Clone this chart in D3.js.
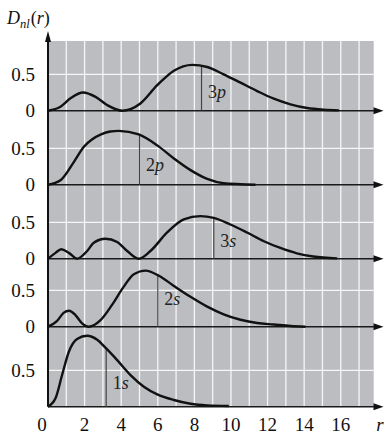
<!DOCTYPE html>
<html>
<head>
<meta charset="utf-8">
<script src="https://cdn.jsdelivr.net/npm/d3@7"></script>
<style>
  svg text, svg tspan { font-family: "Liberation Serif", serif !important; }
</style>
</head>
<body style="margin:0">
<svg width="384" height="435"></svg>
<script>

// data: [r, D(r)]
var panels = ["3p", "2p", "3s", "2s", "1s"];

var d3p = [[0,0],[0.68,0.055],[1.23,0.17],[1.92,0.25],[2.6,0.19],[3.23,0.078],[4.05,0],
  [5.05,0.10],[5.97,0.35],[6.88,0.55],[7.88,0.63],[8.7,0.60],[9.6,0.50],[10.52,0.385],
  [11.43,0.27],[12.34,0.165],[13.25,0.088],[14.16,0.037],[15.07,0.014],[15.9,0.005]];

var d2p = [[0,0],[0.68,0.06],[1.41,0.31],[1.96,0.52],[2.4,0.62],[2.9,0.69],[3.4,0.73],[3.87,0.74],
  [4.96,0.69],[5.97,0.54],[6.88,0.36],[7.79,0.20],[8.7,0.08],[9.6,0.02],[10.52,0.007],[11.34,0]];

var d3s = [[0,0],[0.41,0.08],[0.72,0.13],[1.14,0.08],[1.59,0],[2.14,0.106],[2.5,0.22],
  [3.14,0.275],[3.78,0.23],[4.33,0.106],[4.96,0],[5.6,0.106],[6.51,0.36],[7.42,0.54],
  [8.33,0.585],[9.06,0.56],[9.97,0.47],[10.88,0.36],[11.8,0.24],[12.7,0.147],[13.6,0.074],
  [14.5,0.03],[15.8,0.005]];

var d2s = [[0,0],[0.5,0.08],[0.85,0.19],[1.15,0.22],[1.5,0.16],[1.85,0.05],[2.23,0],
  [2.87,0.09],[3.5,0.30],[4.14,0.55],[4.69,0.72],[5.33,0.77],[6.06,0.70],[6.88,0.56],
  [7.79,0.41],[8.7,0.275],[9.6,0.17],[10.52,0.095],[11.43,0.05],[12.34,0.03],[13.25,0.01],[14.07,0]];

var d1s = [[0,0],[0.41,0.115],[0.77,0.435],[1.14,0.755],[1.59,0.93],[2.14,0.975],[2.69,0.92],
  [3.18,0.80],[3.78,0.64],[4.51,0.435],[5.24,0.275],[5.97,0.17],[6.88,0.092],[7.79,0.04],
  [8.7,0.018],[9.88,0.01]];

var curves = [d3p, d2p, d3s, d2s, d1s];

// vertical marks (r, height where they meet the curve)
var markR = [8.39, 5.0, 9.06, 6.0, 3.18];
var markD = [0.61, 0.69, 0.56, 0.705, 0.80];

var xTicks = [0, 2, 4, 6, 8, 10, 12, 14, 16];
var gridR = [1,2,3,4,5,6,7,8,9,10,11,12,13,14,15,16,17];
var yTickLabels = ["0", "0.5"];

//###############################################
// layout
//###############################################
var svg = d3.select("svg");
var baseY = [110.7, 184.7, 258.7, 326.7, 406.7];   // panel baselines
var labelLift = [13, 14, 11.5, 21.5, 17.5];
var fieldTop = 41, fieldRight = 373.7, tip = 383.5;
var serif = "'Liberation Serif'";

var x = d3.scaleLinear().domain([0, 17.8]).range([48, 373.7]);
var y = d3.scaleLinear().domain([0, 1]).range([0, -72.8]);

// gray field
svg.append("rect")
  .attr("x", x(0)).attr("y", fieldTop)
  .attr("width", fieldRight - x(0)).attr("height", baseY[4] - fieldTop)
  .attr("fill", "#bcbdc0");

// white grid
svg.append("g").selectAll("line")
  .data(gridR).enter().append("line")
    .attr("x1", (d) => x(d)).attr("x2", (d) => x(d))
    .attr("y1", fieldTop).attr("y2", baseY[4])
    .attr("stroke", "#f6f6f6").attr("stroke-width", 1.3);

svg.append("g").selectAll("line")
  .data(baseY).enter().append("line")
    .attr("x1", x(0)).attr("x2", fieldRight)
    .attr("y1", (d) => d + y(0.5)).attr("y2", (d) => d + y(0.5))
    .attr("stroke", "#f6f6f6").attr("stroke-width", 1.3);

var line = d3.line()
  .x((d) => x(d[0]))
  .y((d) => y(d[1]))
  .curve(d3.curveMonotoneX);

panels.forEach(function(name, i) {
  var g = svg.append("g").attr("transform", "translate(0," + baseY[i] + ")");

  // baseline with arrow
  g.append("line")
    .attr("x1", x(0)).attr("x2", tip - 6)
    .attr("y1", 0).attr("y2", 0)
    .attr("stroke", "#1a1a1a").attr("stroke-width", 1.5);
  g.append("path")
    .attr("d", "M" + tip + ",0L" + (tip - 10) + ",-3.5L" + (tip - 10) + ",3.5Z")
    .attr("fill", "#111");

  // mark
  g.append("line")
    .attr("x1", x(markR[i])).attr("x2", x(markR[i]))
    .attr("y1", 0).attr("y2", y(markD[i]))
    .attr("stroke", "#444").attr("stroke-width", 1.2);

  g.append("path")
    .datum(curves[i])
    .attr("d", line)
    .attr("fill", "none")
    .attr("stroke", "#111")
    .attr("stroke-width", 2.4)
    .attr("stroke-linejoin", "round");

  // label like "3p"
  var t = g.append("text")
    .attr("x", x(markR[i]) + 6.5)
    .attr("y", -labelLift[i])
    .style("font-family", serif)
    .style("font-size", "18px")
    .attr("fill", "#222");
  t.append("tspan").text(name[0]);
  t.append("tspan").style("font-style", "italic").text(name[1]);

  // y tick labels
  var labs = i < 4 ? yTickLabels : ["0.5"];
  g.selectAll(".yl").data(labs).enter().append("text")
    .attr("class", "yl")
    .attr("x", 35)
    .attr("y", (d) => y(+d))
    .attr("dy", "0.34em")
    .attr("text-anchor", "end")
    .style("font-family", serif)
    .style("font-size", "19px")
    .attr("fill", "#111")
    .text((d) => d);
});

// y axis
svg.append("line")
  .attr("x1", x(0)).attr("x2", x(0))
  .attr("y1", baseY[4]).attr("y2", 38)
  .attr("stroke", "#111").attr("stroke-width", 2);
svg.append("path")
  .attr("d", "M" + x(0) + ",31L" + (x(0) - 3) + ",42L" + (x(0) + 3) + ",42Z")
  .attr("fill", "#111");

// x labels
svg.append("g").selectAll("text")
  .data(xTicks).enter().append("text")
    .attr("x", (d) => d === 0 ? x(0) - 6 : x(d))
    .attr("y", 431)
    .attr("text-anchor", "middle")
    .style("font-family", serif)
    .style("font-size", "19px")
    .attr("fill", "#111")
    .text((d) => d);

svg.append("text")
  .attr("x", 380).attr("y", 431)
  .attr("text-anchor", "middle")
  .style("font-family", serif)
  .style("font-size", "19px")
  .style("font-style", "italic")
  .attr("fill", "#111")
  .text("r");

// title D_nl(r)
var title = svg.append("text").attr("x", 7).attr("y", 24)
  .style("font-family", serif).style("font-size", "18px").attr("fill", "#111");
title.append("tspan").style("font-style", "italic").text("D");
title.append("tspan").style("font-style", "italic").style("font-size", "12.5px").attr("dy", 3.5).text("nl");
title.append("tspan").attr("dy", -3.5).attr("dx", 1).text("(");
title.append("tspan").style("font-style", "italic").text("r");
title.append("tspan").text(")");

</script>
</body>
</html>
